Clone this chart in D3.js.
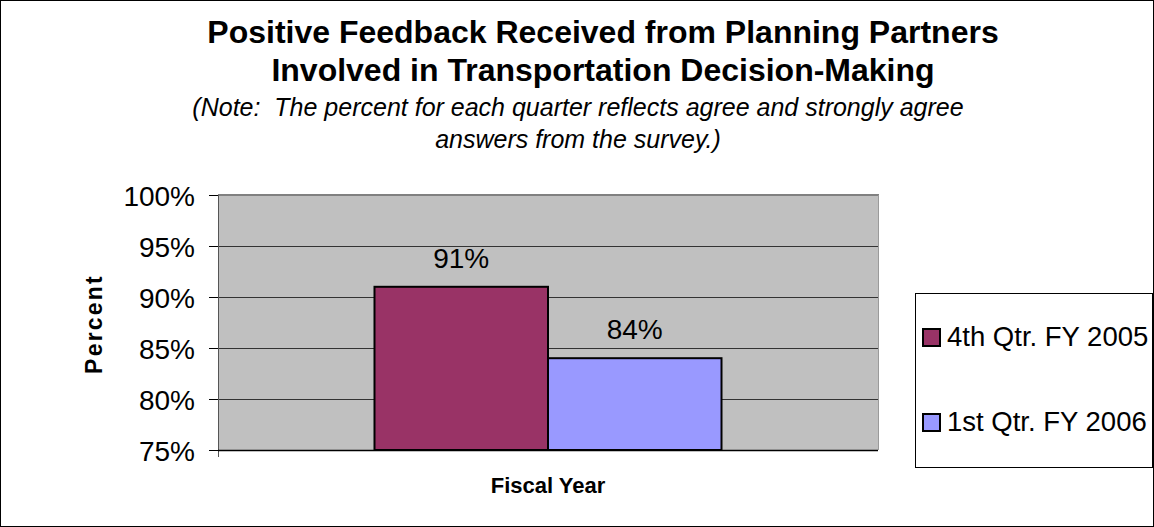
<!DOCTYPE html>
<html><head><meta charset="utf-8">
<script src="https://cdn.jsdelivr.net/npm/d3@7"></script>
<style>body{margin:0;background:#fff}svg{display:block;font-family:"Liberation Sans",Arial,sans-serif}text{white-space:pre}</style>
</head><body>
<svg id="c" width="1154" height="527"></svg>
<script>
const titleLines = ["Positive Feedback Received from Planning Partners", "Involved in Transportation Decision-Making"];
const noteLines = ["(Note:  The percent for each quarter reflects agree and strongly agree", "answers from the survey.)"];
const categories = ["Fiscal Year"];
const seriesNames = ["4th Qtr. FY 2005", "1st Qtr. FY 2006"];
const seriesValues = [0.91, 0.84];
const seriesColors = ["#993366", "#9999FF"];
const yTicks = [0.75, 0.80, 0.85, 0.90, 0.95, 1.00];

const svg = d3.select("#c");
const W = 1154, H = 527;
svg.append("rect").attr("x",0.5).attr("y",0.5).attr("width",W-1).attr("height",H-1).attr("fill","#fff").attr("stroke","#000");

const m = {l:218, r:878, t:195, b:450};
const y = d3.scaleLinear().domain([0.75,1.0]).range([m.b,m.t]);
const x0 = d3.scaleBand().domain(categories).range([m.l,m.r]).paddingInner(0).paddingOuter(0.451);
const x1 = d3.scaleBand().domain(seriesNames).range([0,x0.bandwidth()]);

// plot area
svg.append("rect").attr("x",m.l).attr("y",m.t).attr("width",m.r-m.l).attr("height",m.b-m.t).attr("fill","#C0C0C0");
// gridlines
svg.append("g").selectAll("line").data(yTicks.filter(d=>d>0.75 && d<1)).join("line")
  .attr("x1",m.l).attr("x2",m.r).attr("y1",d=>Math.round(y(d))+0.5).attr("y2",d=>Math.round(y(d))+0.5)
  .attr("stroke","#333").attr("stroke-width",1);
// top/right border
svg.append("line").attr("x1",m.l).attr("x2",m.r+1).attr("y1",m.t).attr("y2",m.t).attr("stroke","#808080").attr("stroke-width",2);
svg.append("line").attr("x1",m.r+0.5).attr("x2",m.r+0.5).attr("y1",m.t).attr("y2",m.b).attr("stroke","#9a9a9a").attr("stroke-width",1);

// bars
const g = svg.append("g").attr("transform",`translate(${x0(categories[0])},0)`);
g.selectAll("rect").data(seriesNames).join("rect")
  .attr("x",d=>x1(d)).attr("width",x1.bandwidth())
  .attr("y",(d,i)=>y(seriesValues[i])).attr("height",(d,i)=>y(0.75)-y(seriesValues[i]))
  .attr("fill",(d,i)=>seriesColors[i]).attr("stroke","#000").attr("stroke-width",2);
g.selectAll("text").data(seriesNames).join("text")
  .attr("x",d=>x1(d)+x1.bandwidth()/2).attr("y",(d,i)=>y(seriesValues[i])-19)
  .attr("text-anchor","middle").attr("font-size",28).attr("fill","#000")
  .text((d,i)=>d3.format(".0%")(seriesValues[i]));

// y axis
const yAxis = d3.axisLeft(y).tickValues(yTicks).tickFormat(d3.format(".0%")).tickSize(9).tickPadding(14);
const ya = svg.append("g").attr("transform",`translate(${m.l},0)`).call(yAxis);
ya.select(".domain").attr("stroke","#555").attr("d",`M0.5,${m.t}V${m.b+7}`);
ya.selectAll(".tick line").attr("stroke","#000");
ya.selectAll("text").attr("font-size",28).attr("font-family","Liberation Sans, Arial, sans-serif").attr("fill","#000").attr("dy","0.36em");
// x axis baseline
svg.append("line").attr("x1",m.l).attr("x2",m.r).attr("y1",m.b+0.5).attr("y2",m.b+0.5).attr("stroke","#000").attr("stroke-width",1.5);

// titles
svg.append("g").selectAll("text").data(titleLines).join("text")
  .attr("x",603).attr("y",(d,i)=>43+i*38).attr("text-anchor","middle")
  .attr("font-weight","bold").attr("font-size",32).text(d=>d);
svg.append("g").selectAll("text").data(noteLines).join("text")
  .attr("x",578).attr("y",(d,i)=>116+i*32).attr("text-anchor","middle")
  .attr("font-style","italic").attr("font-size",25).text(d=>d);
svg.append("text").attr("x",548).attr("y",493).attr("text-anchor","middle")
  .attr("font-weight","bold").attr("font-size",22).text(categories[0]);
svg.append("text").attr("transform","translate(102,324) rotate(-90)").attr("text-anchor","middle")
  .attr("font-weight","bold").attr("font-size",23).attr("letter-spacing",2.2).text("Percent");

// legend
svg.append("rect").attr("x",915.5).attr("y",293.5).attr("width",237).attr("height",174).attr("fill","#fff").attr("stroke","#000");
const lg = svg.append("g").selectAll("g").data(seriesNames).join("g")
  .attr("transform",(d,i)=>`translate(923,${329+i*85})`);
lg.append("rect").attr("width",17).attr("height",17).attr("fill",(d,i)=>seriesColors[i]).attr("stroke","#000").attr("stroke-width",2);
lg.append("text").attr("x",24).attr("y",17).attr("font-size",27.5).text(d=>d);
</script>
</body></html>
